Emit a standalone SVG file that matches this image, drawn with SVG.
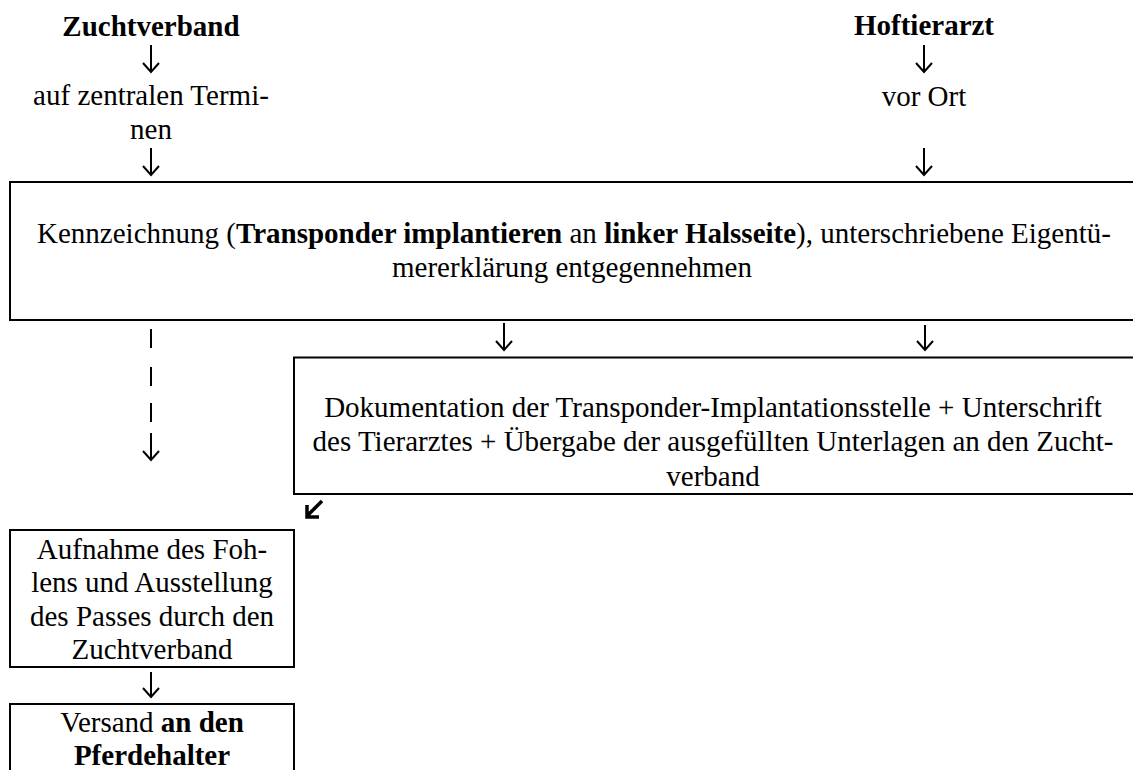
<svg xmlns="http://www.w3.org/2000/svg" width="1133" height="770" viewBox="0 0 1133 770">
<style>
text{font-family:'Liberation Serif','Times New Roman',Times,'DejaVu Serif',serif;font-size:29px;fill:#000;text-anchor:middle}
.b{font-weight:bold}
.box{fill:none;stroke:#000;stroke-width:2}
.con{fill:none;stroke:#000;stroke-width:2}
</style>
<defs>
<marker id="ah" markerUnits="userSpaceOnUse" markerWidth="20" markerHeight="20" viewBox="-10 -10 20 20" refX="0" refY="0" orient="auto" overflow="visible">
<path d="M-9,-8 L0,0 L-9,8" fill="none" stroke="#000" stroke-width="2"/>
</marker>
</defs>
<rect width="1133" height="770" fill="#fff"/>
<g font-family="Liberation Serif, Times New Roman, serif">
<g id="zuchtverband"><text class="b" x="151" y="36">Zuchtverband</text></g>
<g id="zentral"><text x="151" y="105">auf zentralen Termi-</text><text x="151" y="139">nen</text></g>
<g id="hoftierarzt"><text class="b" x="924" y="35">Hoftierarzt</text></g>
<g id="vorort"><text x="924" y="106">vor Ort</text></g>
<g id="kennzeichnung">
<path class="box" d="M1140,182 H10 V320 H1140"/>
<text x="574" y="243">Kennzeichnung (<tspan class="b">Transponder implantieren</tspan> an <tspan class="b">linker Halsseite</tspan>), unterschriebene Eigentü-</text>
<text x="572" y="277">mererklärung entgegennehmen</text>
</g>
<g id="dokumentation">
<path class="box" d="M1140,357.5 H294 V494 H1140"/>
<text x="713" y="417">Dokumentation der Transponder-Implantationsstelle + Unterschrift</text>
<text x="713" y="451">des Tierarztes + Übergabe der ausgefüllten Unterlagen an den Zucht-</text>
<text x="713" y="486">verband</text>
</g>
<g id="aufnahme">
<rect class="box" x="10" y="530" width="284" height="137"/>
<text x="152" y="559">Aufnahme des Foh-</text>
<text x="152" y="592">lens und Ausstellung</text>
<text x="152" y="626">des Passes durch den</text>
<text x="152" y="659">Zuchtverband</text>
</g>
<g id="versand">
<path class="box" d="M10,780 V704 H294 V780"/>
<text x="152" y="732">Versand <tspan class="b">an den</tspan></text>
<text class="b" x="152" y="765">Pferdehalter</text>
</g>
</g>
<g id="connectors">
<path class="con" d="M151,45 V72" marker-end="url(#ah)"/>
<path class="con" d="M151,148 V175" marker-end="url(#ah)"/>
<path class="con" d="M924,45 V72" marker-end="url(#ah)"/>
<path class="con" d="M924,148 V175" marker-end="url(#ah)"/>
<path class="con" d="M504,323 V350" marker-end="url(#ah)"/>
<path class="con" d="M925,325 V350" marker-end="url(#ah)"/>
<path class="con" d="M151,329 V460" stroke-dasharray="19 19 19 17 19 11 27 100" marker-end="url(#ah)"/>
<path d="M322,501 L308,515 M307,505 V517 H319" fill="none" stroke="#000" stroke-width="3.5"/>
<path class="con" d="M151,672 V697" stroke-width="1.5" marker-end="url(#ah)"/>
</g>
</svg>
